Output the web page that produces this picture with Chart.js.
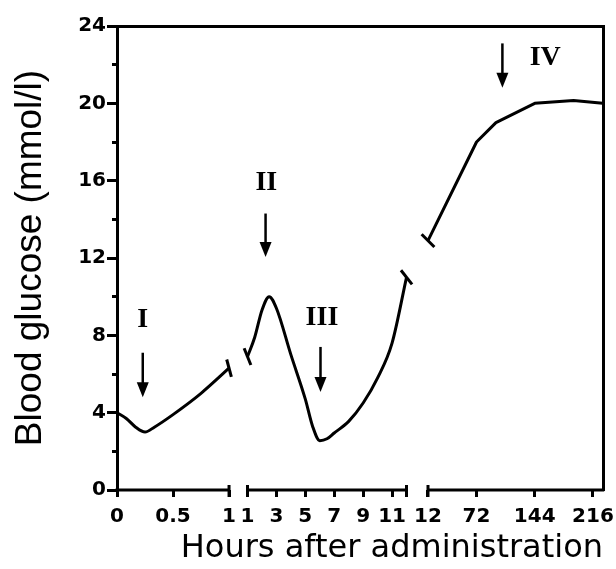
<!DOCTYPE html>
<html>
<head>
<meta charset="utf-8">
<script src="https://cdn.jsdelivr.net/npm/chart.js@4/dist/chart.umd.min.js"></script>
<style>
html, body { margin: 0; padding: 0; background: #fff; }
canvas { display: block; }
</style>
</head>
<body>
<canvas id="c" width="616" height="569"></canvas>
<script>
// ---- data (hours after administration, blood glucose mmol/l) ----
const seg1Hours   = [0, 0.083, 0.167, 0.25, 0.333, 0.5, 0.75, 1];
const seg1Glucose = [4.0, 3.7, 3.25, 3.0, 3.25, 3.9, 5.0, 6.3];

const seg2Hours   = [1, 1.5, 2, 2.5, 3, 4, 5, 5.5, 6, 6.5, 7, 8, 9, 10, 11, 12];
const seg2Glucose = [6.9, 7.9, 9.3, 10.0, 9.4, 7.0, 4.7, 3.3, 2.55, 2.65, 2.95, 3.55, 4.5, 5.8, 7.6, 11.0];

const seg3Hours   = [12, 72, 96, 144, 192, 228];
const seg3Glucose = [12.9, 18.0, 19.0, 20.0, 20.15, 20.0];

// tick labels
const xTicks1 = [0, 0.5, 1];
const xTicks2 = [1, 3, 5, 7, 9, 11, 12];
const xTicks2Unlabelled = [12];
const xTicks3 = [12, 72, 144, 216];
const yTicks  = [0, 2, 4, 6, 8, 10, 12, 14, 16, 18, 20, 22, 24];

// segment extents of the broken time axis (hours)
const segStart = [0, 1, 12];
const segEnd   = [1, 12, 228];

// annotations (stage markers)
const annoLabel  = ['I', 'II', 'III', 'IV'];
const annoAxis   = ['x1', 'x2', 'x2', 'x3'];
const annoHour   = [0.23, 2.25, 6.05, 104];
const arrowFrom  = [7.1, 14.3, 7.4, 23.1];
const arrowTo    = [4.8, 12.05, 5.07, 20.8];
const labelHour  = [0.23, 2.3, 6.15, 157];
const labelLevel = [8.8, 15.9, 8.9, 22.35];

// ---- styling ----
const BLACK = '#000';
const tickFont = { family: 'DejaVu Sans', size: 20, weight: 'bold' };
const breakRot1 = [75];       // seg1 end
const breakRot2 = [68, 52];   // seg2 start, end
const breakRot3 = [45];       // seg3 start

function pts(xs, ys) { return xs.map((x, i) => ({ x: x, y: ys[i] })); }

function xAxis(ticksArr, min, max, weight, unlabelled) {
  return {
    type: 'linear', position: 'bottom', stack: 'hours', stackWeight: weight,
    min: min, max: max,
    afterBuildTicks: s => { s.ticks = ticksArr.map(v => ({ value: v })); },
    afterFit: s => { s.height = 39; s.paddingLeft = 0; s.paddingRight = 0; },
    ticks: {
      font: tickFont, color: BLACK, padding: 8, autoSkip: false,
      maxRotation: 0, minRotation: 0,
      callback: v => (unlabelled.includes(v) ? '' : String(v))
    },
    grid: { display: true, drawOnChartArea: false, drawTicks: true, tickLength: 7, tickWidth: 3, tickColor: BLACK },
    border: { display: false }
  };
}

const lineBase = {
  borderColor: BLACK, borderWidth: 3, backgroundColor: BLACK,
  fill: false, borderJoinStyle: 'round',
  pointStyle: 'line', pointBorderColor: BLACK, pointBorderWidth: 3,
  yAxisID: 'y'
};

const brokenAxisPlugin = {
  id: 'brokenAxis',
  afterDraw(chart) {
    const ctx = chart.ctx;
    const yPix = chart.chartArea.bottom;
    const ids = ['x1', 'x2', 'x3'];
    ctx.save();
    ctx.strokeStyle = BLACK;
    ctx.lineWidth = 3;
    ids.forEach((id, i) => {
      const sc = chart.scales[id];
      const a = sc.getPixelForValue(segStart[i]);
      const b = sc.getPixelForValue(segEnd[i]);
      ctx.beginPath();
      ctx.moveTo(a - (i === 0 ? 1.5 : 0), yPix);
      ctx.lineTo(b + (i === ids.length - 1 ? 1.5 : 0), yPix);
      ctx.stroke();
      // end caps at the break
      if (i > 0) { ctx.beginPath(); ctx.moveTo(a, yPix - 5); ctx.lineTo(a, yPix + 7); ctx.stroke(); }
      if (i < ids.length - 1) { ctx.beginPath(); ctx.moveTo(b, yPix - 5); ctx.lineTo(b, yPix + 7); ctx.stroke(); }
    });
    // stage arrows and labels
    const ys = chart.scales.y;
    ctx.fillStyle = BLACK;
    annoLabel.forEach((lab, i) => {
      const sc = chart.scales[annoAxis[i]];
      const x = sc.getPixelForValue(annoHour[i]);
      const y0 = ys.getPixelForValue(arrowFrom[i]);
      const y1 = ys.getPixelForValue(arrowTo[i]);
      const head = 15, hw = 6;
      ctx.lineWidth = 2.5;
      ctx.beginPath();
      ctx.moveTo(x, y0);
      ctx.lineTo(x, y1 - head + 2);
      ctx.stroke();
      ctx.beginPath();
      ctx.moveTo(x - hw, y1 - head);
      ctx.lineTo(x + hw, y1 - head);
      ctx.lineTo(x, y1);
      ctx.closePath();
      ctx.fill();
      const lx = sc.getPixelForValue(labelHour[i]);
      const ly = ys.getPixelForValue(labelLevel[i]);
      ctx.font = 'bold 28px "Liberation Serif"';
      ctx.textAlign = 'center';
      ctx.textBaseline = 'middle';
      ctx.fillText(lab, lx, ly);
    });
    ctx.restore();
  }
};

new Chart(document.getElementById('c'), {
  type: 'line',
  data: {
    datasets: [
      Object.assign({}, lineBase, {
        xAxisID: 'x1', data: pts(seg1Hours, seg1Glucose),
        cubicInterpolationMode: 'monotone',
        pointRadius: c => (c.dataIndex === seg1Hours.length - 1 ? 9 : 0),
        pointRotation: breakRot1[0]
      }),
      Object.assign({}, lineBase, {
        xAxisID: 'x2', data: pts(seg2Hours, seg2Glucose),
        cubicInterpolationMode: 'monotone',
        pointRadius: c => (c.dataIndex === 0 || c.dataIndex === seg2Hours.length - 1 ? 9 : 0),
        pointRotation: c => (c.dataIndex === 0 ? breakRot2[0] : breakRot2[1])
      }),
      Object.assign({}, lineBase, {
        xAxisID: 'x3', data: pts(seg3Hours, seg3Glucose),
        tension: 0,
        pointRadius: c => (c.dataIndex === 0 ? 9 : 0),
        pointRotation: breakRot3[0]
      })
    ]
  },
  options: {
    responsive: false,
    animation: false,
    events: [],
    layout: { padding: { top: 26, right: 13, bottom: 0, left: 0 } },
    plugins: { legend: { display: false }, tooltip: { enabled: false } },
    scales: {
      x1: xAxis(xTicks1, 0, 1.08, 121, []),
      x2: xAxis(xTicks2, 0.343, 12.76, 179.5, xTicks2Unlabelled),
      x3: xAxis(xTicks3, -0.98, 228.4, 185.5, []),
      xTitle: {
        type: 'linear', position: 'bottom',
        ticks: { display: false }, grid: { display: false, drawTicks: false }, border: { display: false },
        title: { display: true, text: 'Hours after administration', align: 'end',
                 font: { family: 'DejaVu Sans', size: 32 }, color: BLACK, padding: { top: 0, bottom: 1 } },
        afterFit: s => { s.height = 40; s.paddingLeft = 0; s.paddingRight = 0; }
      },
      xTop: {
        type: 'linear', position: 'top',
        ticks: { display: false }, grid: { display: false, drawTicks: false },
        border: { display: true, width: 3, color: BLACK },
        afterFit: s => { s.height = 0; s.paddingLeft = 0; s.paddingRight = 0; }
      },
      y: {
        type: 'linear', position: 'left', min: 0, max: 24,
        afterBuildTicks: s => { s.ticks = yTicks.map(v => ({ value: v })); },
        afterFit: s => { s.width = 117; s.paddingTop = 0; s.paddingBottom = 0; },
        ticks: { font: tickFont, color: BLACK, padding: 1, autoSkip: false,
                 callback: v => (v % 4 === 0 ? String(v) : '') },
        grid: { display: true, drawOnChartArea: false, tickLength: 10, tickWidth: 3, tickColor: BLACK,
                tickBorderDash: c => (c.tick && c.tick.value % 4 !== 0 ? [0, 5, 12] : []) },
        border: { display: true, width: 3, color: BLACK },
        title: { display: true, text: 'Blood glucose (mmol/l)',
                 font: { family: 'Liberation Sans', size: 37 }, color: BLACK, padding: { top: 9, bottom: 0 } }
      },
      yRight: {
        type: 'linear', position: 'right',
        ticks: { display: false }, grid: { display: false, drawTicks: false },
        border: { display: true, width: 3, color: BLACK },
        afterFit: s => { s.width = 0; s.paddingTop = 0; s.paddingBottom = 0; }
      }
    }
  },
  plugins: [brokenAxisPlugin]
});
</script>
</body>
</html>
